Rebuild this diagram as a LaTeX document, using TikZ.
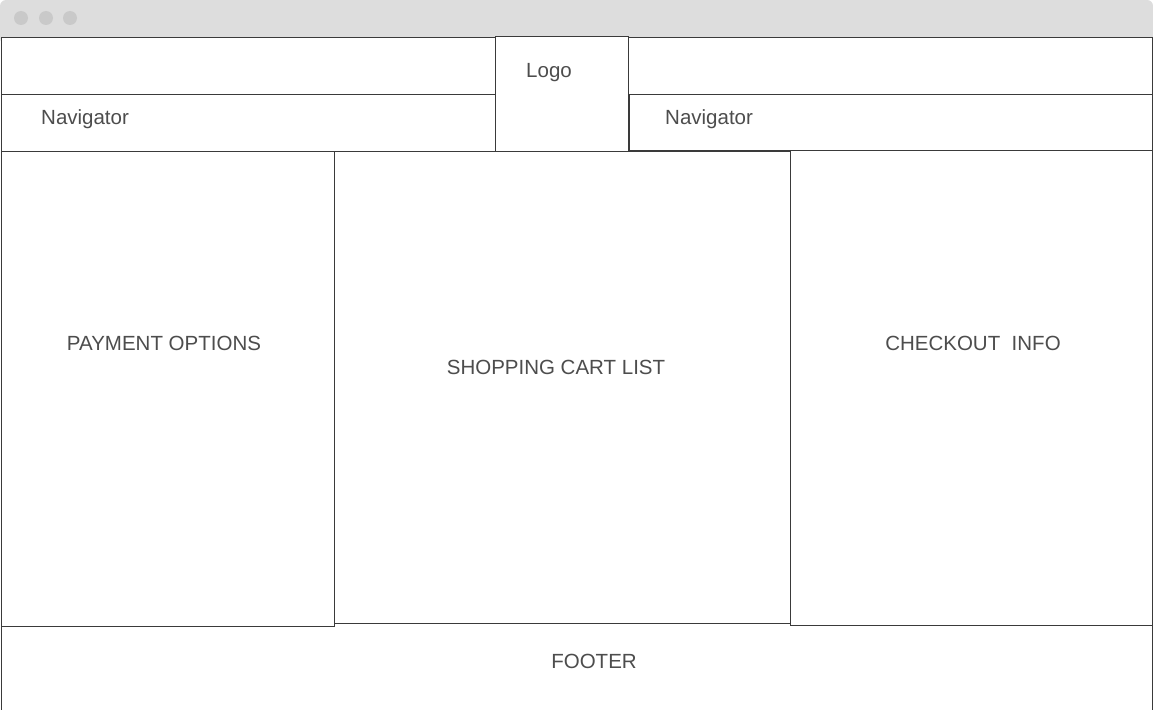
\documentclass[tikz,border=0pt]{standalone}
\usepackage{fontspec}
\setmainfont{Liberation Sans}
\definecolor{barbg}{HTML}{DDDDDD}
\definecolor{dotc}{HTML}{C9C9C9}
\definecolor{linec}{HTML}{3A3A3A}
\definecolor{txtc}{HTML}{4D4D4D}
\begin{document}
\begin{tikzpicture}[x=1pt,y=-1pt,
  panel/.style={draw=linec,line width=0.85pt,fill=white},
  lbl/.style={text=txtc,font=\fontsize{20.5}{24}\selectfont,inner sep=0pt,yshift=-2.5pt},
  caps/.style={lbl,yshift=2pt},
  dotst/.style={fill=dotc,draw=none}]
\useasboundingbox (0,0) rectangle (1153,709);
\fill[white] (0,0) rectangle (1153,709);
% title bar
\fill[barbg,rounded corners=6pt] (0,0) rectangle (1153,44);
\fill[barbg] (0,20) rectangle (1153,37);
\fill[dotst] (21,18) circle (7);
\fill[dotst] (46,18) circle (7);
\fill[dotst] (70,18) circle (7);
% panels
\draw[panel] (1,37) rectangle (496,94);
\draw[panel] (628,37) rectangle (1152,94);
\draw[panel] (1,94) rectangle (495,151);
\draw[panel] (629,94) rectangle (1152,150);
\draw[panel] (495,36) rectangle (628,151);
\draw[panel] (1,625) rectangle (1152,720);
\draw[panel] (1,151) rectangle (334,626);
\draw[panel] (790,150) rectangle (1152,625);
\fill[white] (334.5,151.5) rectangle (789.5,626.5);
\draw[panel] (334,151) rectangle (790,623);
% labels
\node[lbl] (logo) at (549,70) {Logo};
\node[lbl,anchor=west] (navl) at (41,117) {Navigator};
\node[lbl,anchor=west] (navr) at (665,117) {Navigator};
\node[caps] (pay) at (164,343) {PAYMENT OPTIONS};
\node[caps] (cart) at (556,367) {SHOPPING CART LIST};
\node[caps] (check) at (973,343) {CHECKOUT\hspace{0.28em} INFO};
\node[caps] (foot) at (594,661) {FOOTER};
\end{tikzpicture}
\end{document}
